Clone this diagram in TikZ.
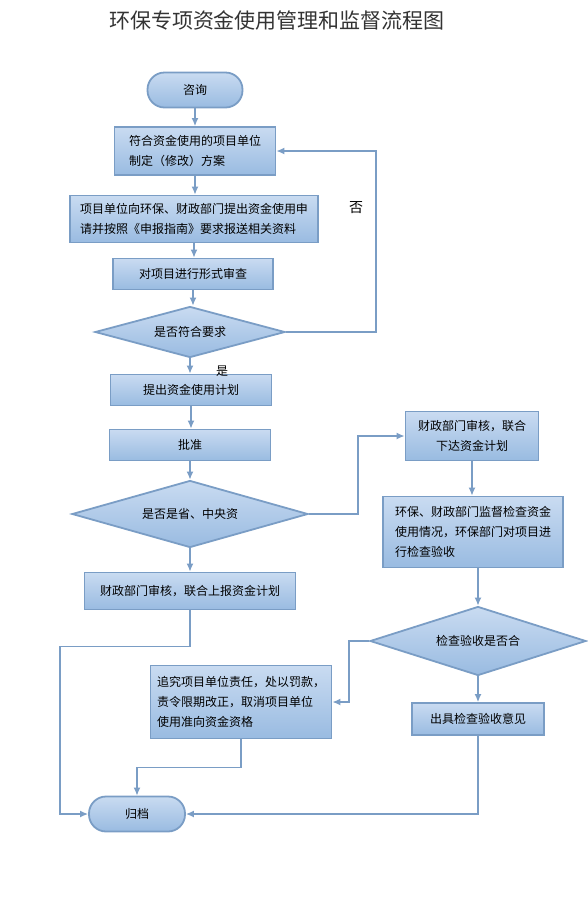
\documentclass[tikz,border=0pt]{standalone}
\usepackage{fontspec}
\setmainfont{Noto Sans CJK SC}
\usetikzlibrary{shapes.geometric,arrows.meta,positioning}
\definecolor{boxtop}{RGB}{201,219,241}
\definecolor{boxbot}{RGB}{153,187,225}
\definecolor{boxline}{RGB}{122,157,197}

\tikzset{
  stepbox/.style={draw=boxline, line width=1.8pt, top color=boxtop, bottom color=boxbot,
    inner sep=0pt, font=\fontsize{12}{20}\selectfont},
  termbox/.style={stepbox, rounded corners=17pt},
  askbox/.style={stepbox, diamond, aspect=3.7},
  flow/.style={draw=boxline, line width=1.4pt, -{Latex[length=8pt,width=7pt]}}
}

\begin{document}
\begin{tikzpicture}[x=1pt, y=-1pt]
        \useasboundingbox (0,0) rectangle (587,922);
        % Title
        \node[font=\fontsize{21}{24}\selectfont, text=black!80] (title) at (277,20) {环保专项资金使用管理和监督流程图};

        % Main column
        \node[termbox, minimum width=95pt, minimum height=35pt] (start) at (195,90) {咨询};
        \node[stepbox, minimum width=161pt, minimum height=48pt, align=left] (plan) at (195,151) {符合资金使用的项目单位\\制定（修改）方案};
        \node[stepbox, minimum width=248pt, minimum height=47pt, align=left] (apply) at (194,219) {项目单位向环保、财政部门提出资金使用申\\请并按照《申报指南》要求报送相关资料};
        \node[stepbox, minimum width=160pt, minimum height=31pt] (review) at (193,274) {对项目进行形式审查};
        \node[askbox, minimum width=190pt, minimum height=51pt] (ok) at (190,332) {是否符合要求};
        \node[stepbox, minimum width=161pt, minimum height=31pt] (fundplan) at (191,390) {提出资金使用计划};
        \node[stepbox, minimum width=161pt, minimum height=31pt] (approve) at (190,445) {批准};
        \node[askbox, minimum width=236pt, minimum height=67pt] (central) at (190,514) {是否是省、中央资};
        \node[stepbox, minimum width=211pt, minimum height=37pt] (report) at (190,591) {财政部门审核，联合上报资金计划};

        % Right column
        \node[stepbox, minimum width=133pt, minimum height=49pt, align=center] (issue) at (472,436) {财政部门审核，联合\\下达资金计划};
        \node[stepbox, minimum width=180pt, minimum height=71pt, align=left] (inspect) at (473,532) {环保、财政部门监督检查资金\\使用情况，环保部门对项目进\\行检查验收};
        \node[askbox, minimum width=216pt, minimum height=69pt] (pass) at (478,641) {检查验收是否合};
        \node[stepbox, minimum width=132pt, minimum height=32pt] (opinion) at (478,719) {出具检查验收意见};

        % Bottom
        \node[stepbox, minimum width=181pt, minimum height=73pt, align=left] (punish) at (241,702) {追究项目单位责任，处以罚款，\\责令限期改正，取消项目单位\\使用准向资金资格};
        \node[termbox, minimum width=96pt, minimum height=35pt] (archive) at (137,814) {归档};

        % Branch labels
        \node[font=\fontsize{14}{16}\selectfont] (nolabel) at (356,208) {否};
        \node[font=\fontsize{12}{14}\selectfont] (yeslabel) at (222,371) {是};

        % Straight arrows down the columns
        \foreach \a/\b in {start/plan, plan/apply, apply/review, review/ok, ok/fundplan,
                           fundplan/approve, approve/central, central/report, issue/inspect, pass/opinion} {
            \draw[flow] (\a.south) -- (\a.south |- \b.north);
          }
        \draw[flow] (pass.north |- inspect.south) -- (pass.north);

        % Bent connectors
        \draw[flow] (ok.east) -- ++(90,0) |- (plan.east);
        \draw[flow] (central.east) -- ++(49,0) |- (issue.west);
        \draw[flow] (pass.west) -- ++(-20,0) |- (punish.east);
        \draw[flow] (opinion.south) |- (archive.east);
        \draw[flow] (punish.south) -- ++(0,28) -| (archive.north);
        \draw[flow] (report.south) -- ++(0,36) -- ++(-130,0) |- (archive.west);
      \end{tikzpicture}
\end{document}
